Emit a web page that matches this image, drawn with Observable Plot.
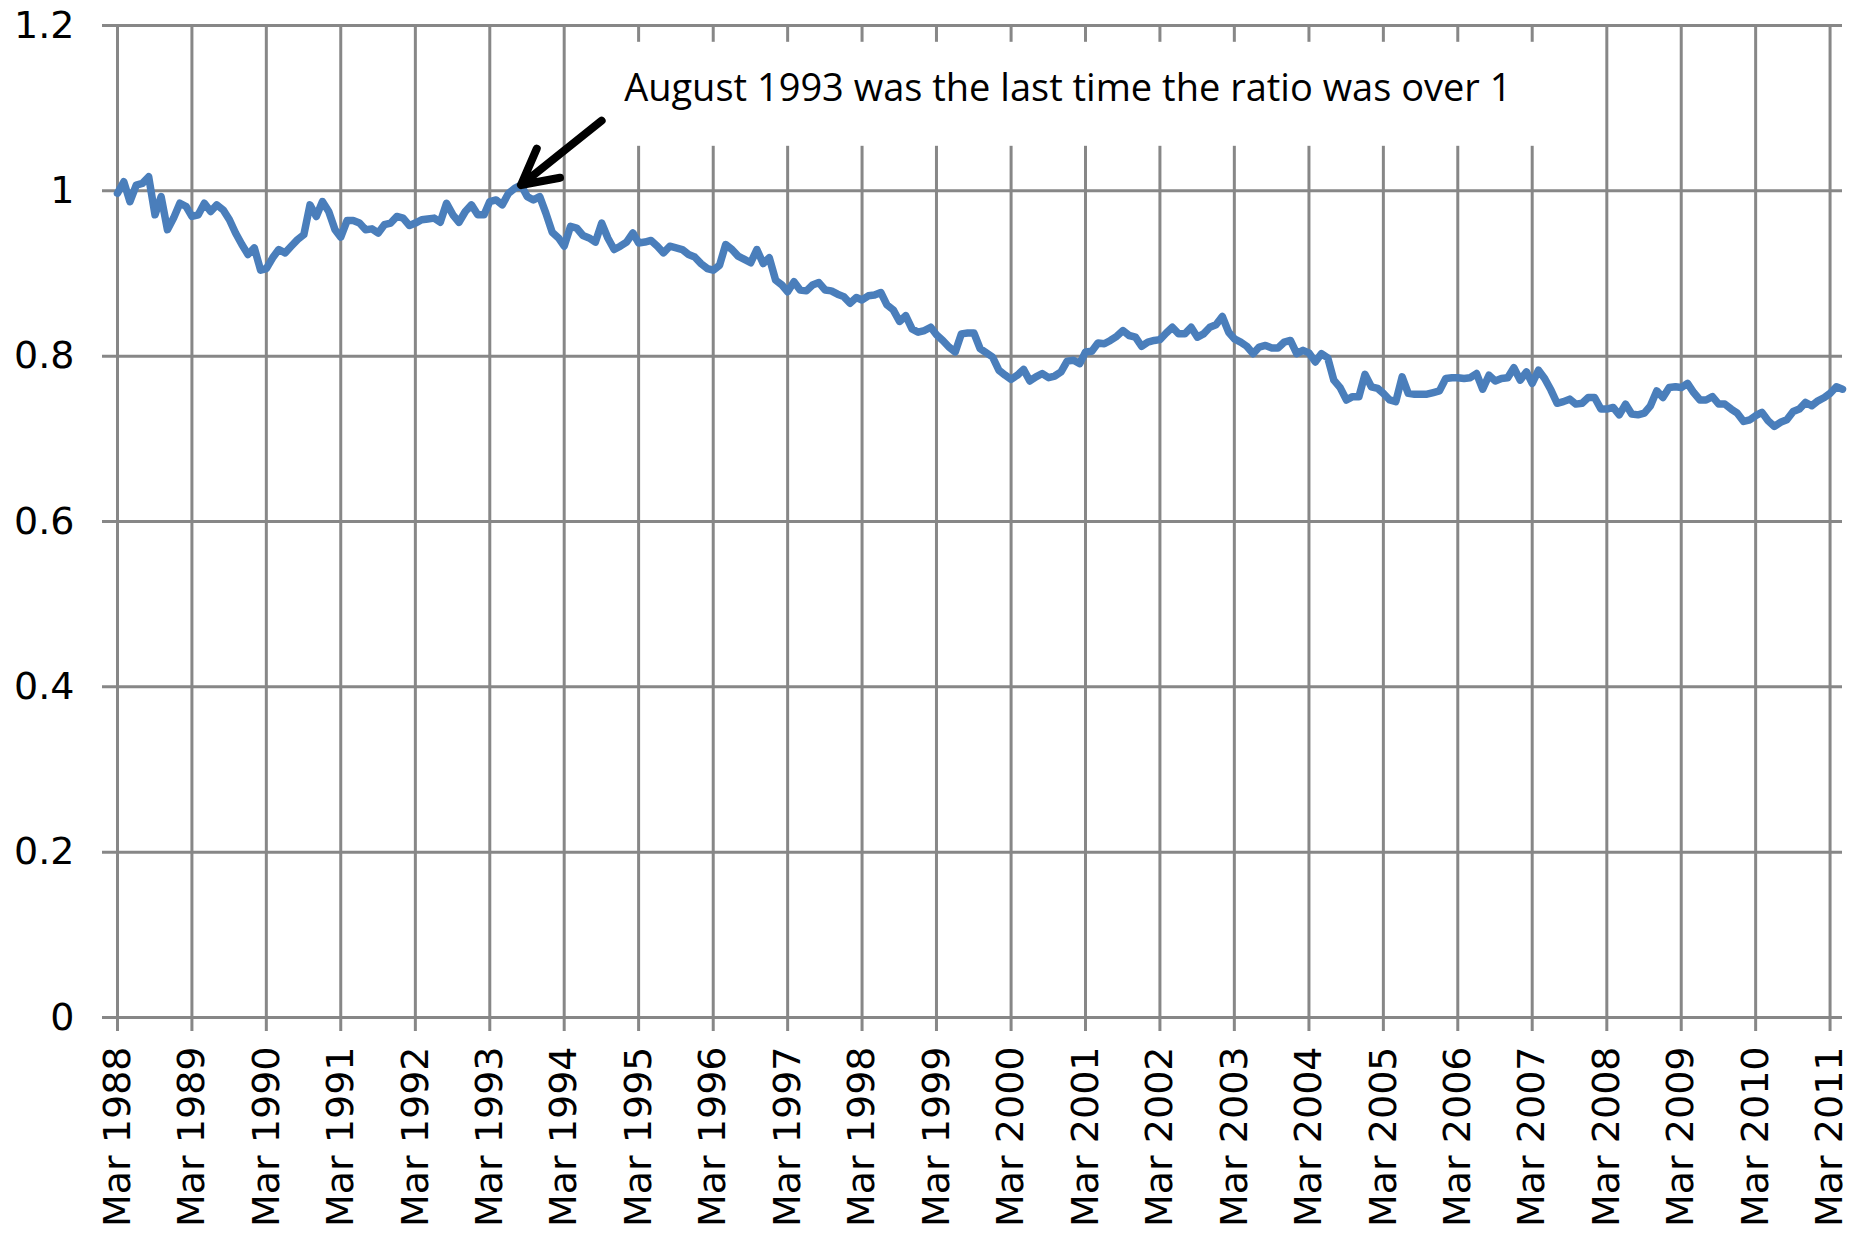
<!DOCTYPE html>
<html>
<head>
<meta charset="utf-8">
<script src="https://cdn.jsdelivr.net/npm/d3@7"></script>
<script src="https://cdn.jsdelivr.net/npm/@observablehq/plot@0.6"></script>
<style>
  html, body { margin: 0; padding: 0; background: #fff; }
  svg { display: block; }
</style>
</head>
<body>
<script>
// Monthly ratio, March 1988 – May 2011 (one row per calendar year)
const ratio = [
  0.997, 1.011, 0.987, 1.007, 1.009, 1.017, 0.971, 0.993, 0.953, 0.967,               // 1988 (Mar–Dec)
  0.985, 0.981, 0.969, 0.971, 0.985, 0.975, 0.983, 0.977, 0.965, 0.949, 0.935, 0.923, // 1989
  0.931, 0.904, 0.906, 0.919, 0.929, 0.925, 0.933, 0.941, 0.947, 0.983, 0.969, 0.987, // 1990
  0.975, 0.953, 0.944, 0.964, 0.964, 0.961, 0.953, 0.954, 0.949, 0.959, 0.961, 0.969, // 1991
  0.967, 0.958, 0.961, 0.965, 0.966, 0.967, 0.962, 0.985, 0.971, 0.962, 0.975, 0.983, // 1992
  0.971, 0.971, 0.987, 0.989, 0.983, 0.997, 1.003, 1.007, 0.993, 0.989, 0.993, 0.973, // 1993
  0.950, 0.943, 0.933, 0.957, 0.955, 0.946, 0.943, 0.938, 0.961, 0.943, 0.929, 0.933, // 1994
  0.938, 0.949, 0.937, 0.938, 0.940, 0.933, 0.925, 0.933, 0.931, 0.929, 0.923, 0.920, // 1995
  0.912, 0.906, 0.904, 0.910, 0.935, 0.929, 0.921, 0.917, 0.913, 0.929, 0.912, 0.919, // 1996
  0.892, 0.886, 0.878, 0.890, 0.880, 0.879, 0.886, 0.889, 0.880, 0.879, 0.875, 0.872, // 1997
  0.864, 0.871, 0.868, 0.873, 0.874, 0.877, 0.862, 0.856, 0.842, 0.849, 0.833, 0.829, // 1998
  0.831, 0.835, 0.826, 0.819, 0.811, 0.805, 0.827, 0.828, 0.828, 0.809, 0.804, 0.799, // 1999
  0.783, 0.777, 0.772, 0.777, 0.784, 0.770, 0.775, 0.779, 0.774, 0.776, 0.781, 0.794, // 2000
  0.795, 0.791, 0.805, 0.806, 0.816, 0.815, 0.819, 0.824, 0.831, 0.825, 0.823, 0.812, // 2001
  0.817, 0.819, 0.820, 0.828, 0.835, 0.827, 0.827, 0.835, 0.823, 0.827, 0.835, 0.838, // 2002
  0.848, 0.829, 0.821, 0.817, 0.812, 0.803, 0.811, 0.813, 0.810, 0.810, 0.817, 0.819, // 2003
  0.803, 0.807, 0.804, 0.793, 0.803, 0.798, 0.771, 0.762, 0.747, 0.751, 0.751, 0.778, // 2004
  0.763, 0.761, 0.755, 0.747, 0.745, 0.775, 0.755, 0.754, 0.754, 0.754, 0.756, 0.758, // 2005
  0.773, 0.774, 0.774, 0.773, 0.774, 0.779, 0.760, 0.777, 0.770, 0.773, 0.774, 0.786, // 2006
  0.771, 0.781, 0.767, 0.783, 0.773, 0.759, 0.743, 0.745, 0.748, 0.742, 0.743, 0.750, // 2007
  0.750, 0.736, 0.736, 0.738, 0.729, 0.742, 0.730, 0.729, 0.731, 0.740, 0.758, 0.750, // 2008
  0.762, 0.763, 0.762, 0.767, 0.756, 0.747, 0.747, 0.751, 0.742, 0.742, 0.736, 0.731, // 2009
  0.721, 0.723, 0.728, 0.732, 0.722, 0.715, 0.720, 0.723, 0.733, 0.736, 0.744, 0.740, // 2010
  0.746, 0.750, 0.755, 0.763, 0.760                                                   // 2011 (Jan–May)
];

// Categories: consecutive months starting March 1988
const months = ratio.map((_, i) => new Date(Date.UTC(1988, 2 + i, 1)));

// Tick labels
const xTickLabels = [
  "Mar 1988", "Mar 1989", "Mar 1990", "Mar 1991", "Mar 1992", "Mar 1993",
  "Mar 1994", "Mar 1995", "Mar 1996", "Mar 1997", "Mar 1998", "Mar 1999",
  "Mar 2000", "Mar 2001", "Mar 2002", "Mar 2003", "Mar 2004", "Mar 2005",
  "Mar 2006", "Mar 2007", "Mar 2008", "Mar 2009", "Mar 2010", "Mar 2011"
];
const yTicks = [0, 0.2, 0.4, 0.6, 0.8, 1, 1.2];

// Annotation (arrow points at August 1993)
const annotationText = "August 1993 was the last time the ratio was over 1";
const annotationTip = { date: new Date(Date.UTC(1993, 7, 1)), value: 1.007 };
const annotationTail = { date: new Date(Date.UTC(1994, 10, 1)), value: 1.097 };

const parseTick = d3.utcParse("%b %Y");
const xTicks = xTickLabels.map(parseTick);
const data = months.map((m, i) => ({ month: m, value: ratio[i] }));
const ann = [{
  x1: annotationTail.date, y1: annotationTail.value,
  x2: annotationTip.date, y2: annotationTip.value,
  text: annotationText
}];

const gridColor = "#878787";

const chart = Plot.plot({
  width: 1858,
  height: 1239,
  marginLeft: 117,
  marginRight: 16,
  marginTop: 25,
  marginBottom: 222,
  style: { fontFamily: "DejaVu Sans", fontSize: "38px", color: "black", background: "white" },
  x: { type: "utc", domain: [months[0], months[months.length - 1]] },
  y: { domain: [0, 1.2] },
  marks: [
    Plot.ruleY(yTicks, { stroke: gridColor, strokeWidth: 3, insetLeft: -15 }),
    Plot.ruleX(xTicks, { stroke: gridColor, strokeWidth: 3, insetBottom: -14 }),
    Plot.line(data, {
      x: "month", y: "value", stroke: "#4A7EBB", strokeWidth: 7.5,
      strokeLinejoin: "round", strokeLinecap: "round"
    }),
    Plot.arrow(ann, {
      x1: "x1", y1: "y1", x2: "x2", y2: "y2",
      stroke: "black", strokeWidth: 8, headLength: 10, headAngle: 56,
      insetStart: 16
    }),
    Plot.text(ann, {
      x: "x1", y: "y1", text: "text", textAnchor: "start",
      dx: 10, dy: -22, fontFamily: "Open Sans", fontSize: 38, fill: "black"
    }),
    Plot.axisY(yTicks, {
      tickSize: 0, tickPadding: 43, tickFormat: d => String(d), label: null
    }),
    Plot.axisX(xTicks, {
      tickSize: 0, tickPadding: 29, tickRotate: -90,
      tickFormat: d3.utcFormat("%b %Y"), label: null
    })
  ]
});

document.body.append(chart);

// White text-box behind the annotation (sized from the rendered text)
(function () {
  const svgNS = "http://www.w3.org/2000/svg";
  const texts = Array.from(chart.querySelectorAll("text"))
    .filter(t => t.textContent === annotationText);
  if (!texts.length) return;
  const t = texts[0];
  const sb = chart.getBoundingClientRect();
  const b = t.getBoundingClientRect();
  const g = t.parentNode;
  const rect = document.createElementNS(svgNS, "rect");
  rect.setAttribute("x", b.left - sb.left - 17);
  rect.setAttribute("y", b.top - sb.top - 18);
  rect.setAttribute("width", b.width + 17 + 45);
  rect.setAttribute("height", b.height + 18 + 34);
  rect.setAttribute("fill", "white");
  g.parentNode.insertBefore(rect, g);
})();
</script>
</body>
</html>
